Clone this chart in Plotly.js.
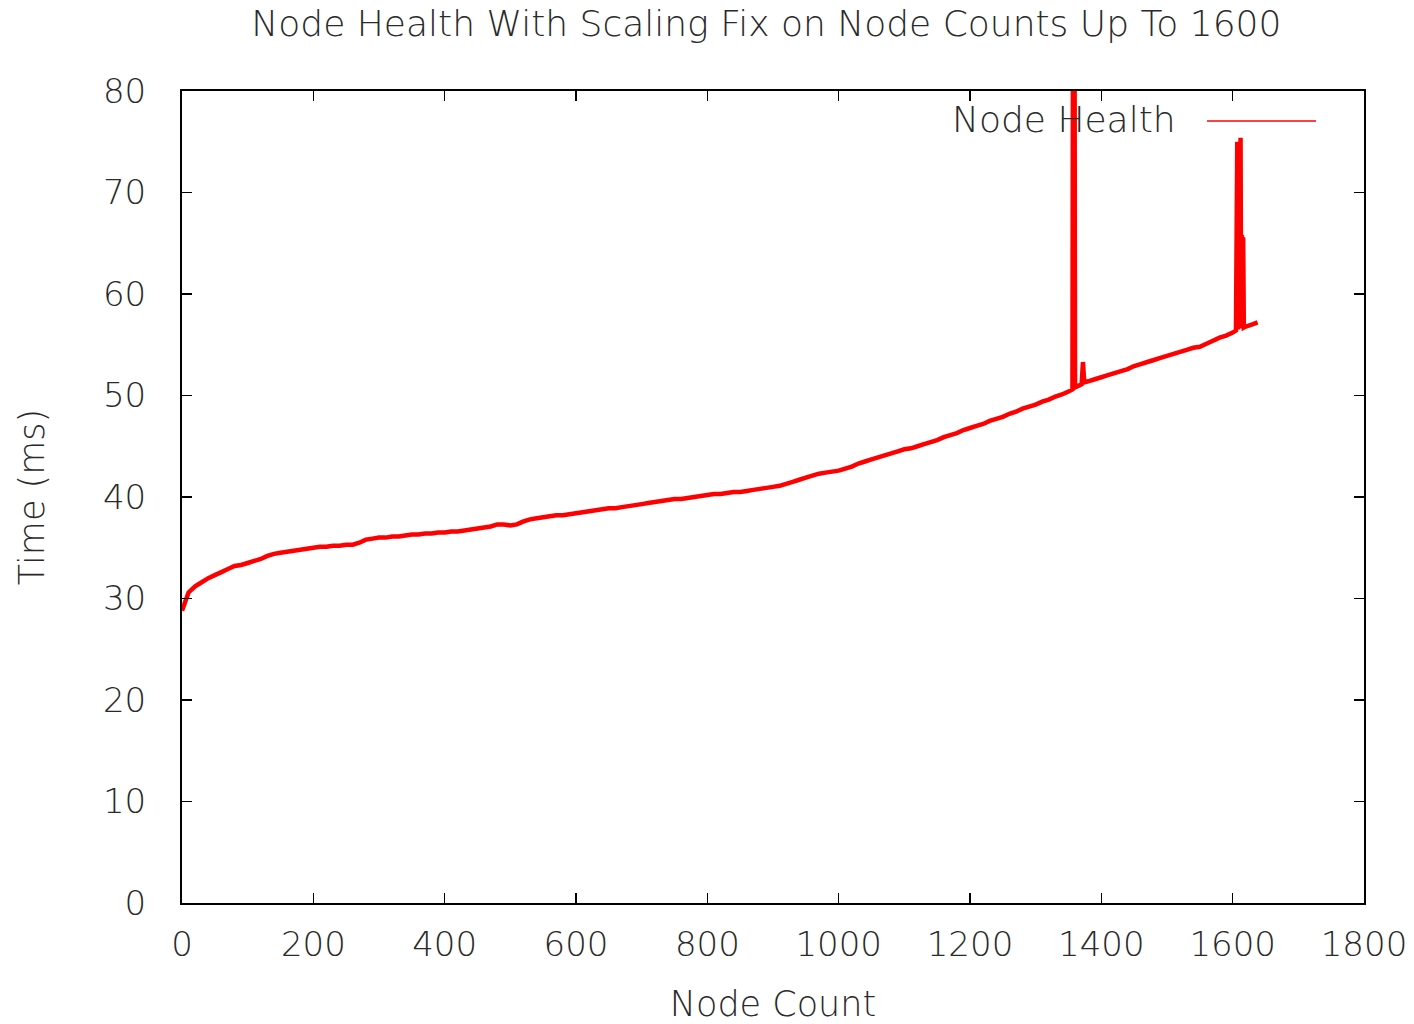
<!DOCTYPE html>
<html>
<head>
<meta charset="utf-8">
<script src="https://cdn.plot.ly/plotly-3.0.1.min.js"></script>
<style>
  html, body { margin: 0; padding: 0; background: #fff; }
  #chart { width: 1414px; height: 1024px; }
</style>
</head>
<body>
<div id="chart"></div>
<script>
// Node counts sampled along the run
const nodes = [
  0, 10, 20, 30, 40, 50, 60, 70, 80, 90,
  100, 110, 120, 130, 140, 150, 160, 170, 180, 190,
  200, 210, 220, 230, 240, 250, 260, 270, 280, 290,
  300, 310, 320, 330, 340, 350, 360, 370, 380, 390,
  400, 410, 420, 430, 440, 450, 460, 470, 480, 490,
  500, 510, 520, 530, 540, 550, 560, 570, 580, 590,
  600, 610, 620, 630, 640, 650, 660, 670, 680, 690,
  700, 710, 720, 730, 740, 750, 760, 770, 780, 790,
  800, 810, 820, 830, 840, 850, 860, 870, 880, 890,
  900, 910, 920, 930, 940, 950, 960, 970, 980, 990,
  1000, 1010, 1020, 1030, 1040, 1050, 1060, 1070, 1080, 1090,
  1100, 1110, 1120, 1130, 1140, 1150, 1160, 1170, 1180, 1190,
  1200, 1210, 1220, 1230, 1240, 1250, 1260, 1270, 1280, 1290,
  1300, 1310, 1320, 1330, 1340, 1350, 1356, 1357, 1358, 1359, 1360,
  1370, 1372, 1374, 1380, 1390,
  1400, 1410, 1420, 1430, 1440, 1450, 1460, 1470, 1480, 1490,
  1500, 1510, 1520, 1530, 1540, 1550, 1560, 1570, 1580, 1590,
  1600, 1605, 1607, 1608, 1610, 1611, 1612, 1613, 1614, 1615, 1616, 1617,
  1620, 1630, 1638
];

// Health check time (ms) at each node count
const timesMs = [
  28.8, 30.6, 31.2, 31.6, 32.0, 32.3, 32.6, 32.9, 33.2, 33.3,
  33.5, 33.7, 33.9, 34.2, 34.4, 34.5, 34.6, 34.7, 34.8, 34.9,
  35.0, 35.1, 35.1, 35.2, 35.2, 35.3, 35.3, 35.5, 35.8, 35.9,
  36.0, 36.0, 36.1, 36.1, 36.2, 36.3, 36.3, 36.4, 36.4, 36.5,
  36.5, 36.6, 36.6, 36.7, 36.8, 36.9, 37.0, 37.1, 37.3, 37.3,
  37.2, 37.3, 37.6, 37.8, 37.9, 38.0, 38.1, 38.2, 38.2, 38.3,
  38.4, 38.5, 38.6, 38.7, 38.8, 38.9, 38.9, 39.0, 39.1, 39.2,
  39.3, 39.4, 39.5, 39.6, 39.7, 39.8, 39.8, 39.9, 40.0, 40.1,
  40.2, 40.3, 40.3, 40.4, 40.5, 40.5, 40.6, 40.7, 40.8, 40.9,
  41.0, 41.1, 41.3, 41.5, 41.7, 41.9, 42.1, 42.3, 42.4, 42.5,
  42.6, 42.8, 43.0, 43.3, 43.5, 43.7, 43.9, 44.1, 44.3, 44.5,
  44.7, 44.8, 45.0, 45.2, 45.4, 45.6, 45.9, 46.1, 46.3, 46.6,
  46.8, 47.0, 47.2, 47.5, 47.7, 47.9, 48.2, 48.4, 48.7, 48.9,
  49.1, 49.4, 49.6, 49.9, 50.1, 50.4, 50.6, 95.0, 52.0, 95.0, 50.8,
  51.1, 53.3, 51.3, 51.4, 51.6,
  51.8, 52.0, 52.2, 52.4, 52.6, 52.9, 53.1, 53.3, 53.5, 53.7,
  53.9, 54.1, 54.3, 54.5, 54.7, 54.8, 55.1, 55.4, 55.7, 55.9,
  56.2, 56.4, 75.0, 56.5, 65.8, 56.6, 75.4, 56.6, 65.8, 56.7, 65.6, 56.7,
  56.8, 57.0, 57.2
];

const seriesName = 'Node Health';
const chartTitle = 'Node Health With Scaling Fix on Node Counts Up To 1600';
const xTitle = 'Node Count';
const yTitle = 'Time (ms)';
const xTicks = [0, 200, 400, 600, 800, 1000, 1200, 1400, 1600, 1800];
const yTicks = [0, 10, 20, 30, 40, 50, 60, 70, 80];

const FONT = 'DejaVu Sans, sans-serif';
const INK = '#2a2a2a';
const RED = '#ff0000';

const trace = {
  x: nodes,
  y: timesMs,
  type: 'scatter',
  mode: 'lines',
  name: seriesName,
  line: { color: RED, width: 4.5, simplify: false },
  showlegend: false
};

const axisCommon = {
  showline: true,
  linecolor: '#000',
  linewidth: 2,
  mirror: 'ticks',
  ticks: 'inside',
  ticklen: 10,
  tickwidth: 1.5,
  tickcolor: '#000',
  showgrid: false,
  zeroline: false,
  tickfont: { family: FONT, size: 34, color: INK, weight: 300 }
};

const layout = {
  width: 1414,
  height: 1024,
  paper_bgcolor: '#fff',
  plot_bgcolor: '#fff',
  margin: { l: 182, r: 50, t: 91, b: 121 },
  title: {
    text: chartTitle,
    font: { family: FONT, size: 36, color: INK, weight: 200 },
    x: 0.542, xanchor: 'center',
    y: 0.977, yanchor: 'middle'
  },
  xaxis: Object.assign({}, axisCommon, {
    range: [0, 1800],
    tickvals: xTicks,
    ticktext: xTicks.map(String),
    ticklabelstandoff: 10,
    title: { text: xTitle, font: { family: FONT, size: 35, color: INK, weight: 300 }, standoff: 37 }
  }),
  yaxis: Object.assign({}, axisCommon, {
    range: [0, 80],
    tickvals: yTicks,
    ticktext: yTicks.map(String),
    ticklabelstandoff: 27,
    title: { text: yTitle, font: { family: FONT, size: 35, color: INK, weight: 300 }, standoff: 48 }
  }),
  annotations: [{
    xref: 'paper', yref: 'paper',
    x: 0.8425, y: 0.9655,
    xanchor: 'right', yanchor: 'middle',
    text: seriesName,
    showarrow: false,
    font: { family: FONT, size: 36, color: INK, weight: 300 }
  }],
  shapes: [{
    type: 'line', xref: 'paper', yref: 'paper',
    x0: 0.8672, x1: 0.9594, y0: 0.963, y1: 0.963,
    line: { color: RED, width: 1.5 }
  }]
};

Plotly.newPlot('chart', [trace], layout, { displayModeBar: false, staticPlot: true });
</script>
</body>
</html>
